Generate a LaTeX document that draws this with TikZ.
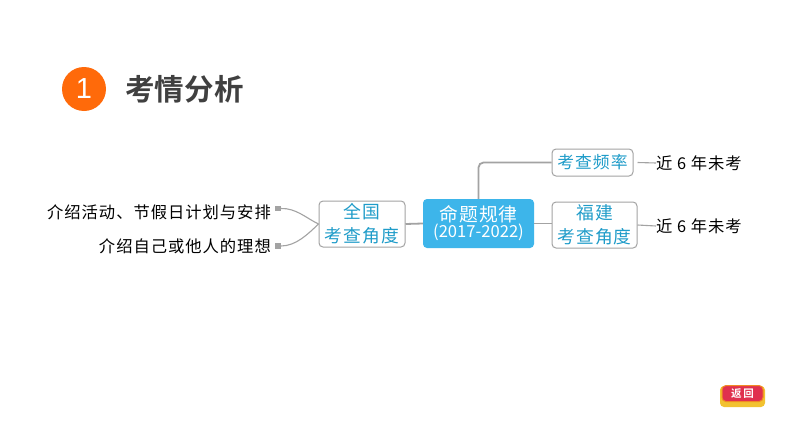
\documentclass[tikz,border=0pt]{standalone}
\usepackage{fontspec}
\setmainfont{Liberation Sans}
\newfontfamily\cjk[LetterSpace=6]{Noto Sans CJK SC}
\newfontfamily\cjkplain{Noto Sans CJK SC}
\newfontfamily\cjkbold[BoldFont={Noto Sans CJK SC Bold},LetterSpace=1]{Noto Sans CJK SC}
\definecolor{topicblue}{HTML}{3DB5EA}
\definecolor{texblue}{HTML}{1F9CC9}
\definecolor{linegray}{HTML}{A3A3A3}
\definecolor{titlegray}{HTML}{404040}
\definecolor{badge}{HTML}{FF6A0A}
\definecolor{btnred}{HTML}{E0304E}
\definecolor{btnedge}{HTML}{F08A24}
\definecolor{btnbase}{HTML}{F2C230}
\tikzset{
  subbox/.style={draw=linegray,line width=1pt,rounded corners=4pt,fill=white,text=texblue,align=center,inner sep=0pt,font=\cjk\fontsize{17.8}{24}\selectfont},
  topicbox/.style={fill=topicblue,rounded corners=4pt,text=white,align=center,inner sep=0pt,minimum width=111pt,minimum height=49pt},
  leaf/.style={inner sep=0pt,text=black,font=\cjk\fontsize{16.3}{20}\selectfont},
  conn/.style={draw=linegray,line width=1.8pt},
  thinconn/.style={draw=linegray,line width=1.1pt},
  marker/.style={fill=linegray,minimum size=5.5pt,inner sep=0pt}
}
\begin{document}
\begin{tikzpicture}[x=1pt,y=-1pt]
\useasboundingbox (0,0) rectangle (794,447);
\fill[white] (0,0) rectangle (794,447);
% heading
\node[circle,fill=badge,minimum size=44pt,inner sep=0pt,text=white,font=\fontsize{29}{30}\selectfont] (badge) at (84,89) {1};
\node[anchor=west,inner sep=0pt,text=titlegray,font=\cjkbold\bfseries\fontsize{29.5}{32}\selectfont] (title) at (125,89) {考情分析};
% boxes
\node[topicbox] (topic) at (478.5,223.5) {\cjk\fontsize{18.8}{22}\selectfont 命题规律\\[0pt]\cjkplain\fontsize{16.6}{18}\selectfont (2017-2022)};
\node[subbox,minimum width=86pt,minimum height=46pt] (nat) at (362,224) {全国\\考查角度};
\node[subbox,minimum width=81pt,minimum height=27pt,font=\cjk\fontsize{16.8}{20}\selectfont] (freq) at (592.5,162.5) {考查频率};
\node[subbox,minimum width=85pt,minimum height=46pt] (fj) at (594.5,225) {福建\\考查角度};
% leaves
\node[leaf,anchor=east] (l1) at (271,212.5) {介绍活动、节假日计划与安排};
\node[leaf,anchor=east] (l2) at (271,246) {介绍自己或他人的理想};
\node[marker] (m1) at (278,208.5) {};
\node[marker] (m2) at (278,246) {};
\node[leaf,anchor=west] (r1) at (656,163) {近 6 年未考};
\node[leaf,anchor=west] (r2) at (656,226) {近 6 年未考};
% connectors
\draw[conn] (nat.east) -- (topic.west);
\draw[conn] (topic.east) -- (fj.west |- topic.east);
\draw[conn,rounded corners=5pt] (topic.north) -- (topic.north |- freq.west) -- (freq.west);
\draw[thinconn] (freq.east) ++(4,0) -- (r1.west);
\draw[thinconn] (fj.east) -- (r2.west);
\draw[thinconn] (m1.east) .. controls (296,208) and (306,218) .. (nat.west);
\draw[thinconn] (m2.east) .. controls (296,246) and (308,234) .. (nat.west);
% return button
\draw[fill=btnbase,draw=none,rounded corners=4pt] (720,386) rectangle (765,407);
\node[fill=btnred,draw=btnedge,line width=1pt,rounded corners=4pt,minimum width=41pt,minimum height=16pt,inner sep=0pt,text=white,font=\cjkbold\bfseries\fontsize{10.5}{12}\selectfont] (back) at (742.5,393.5) {返\,回};
\end{tikzpicture}
\end{document}
